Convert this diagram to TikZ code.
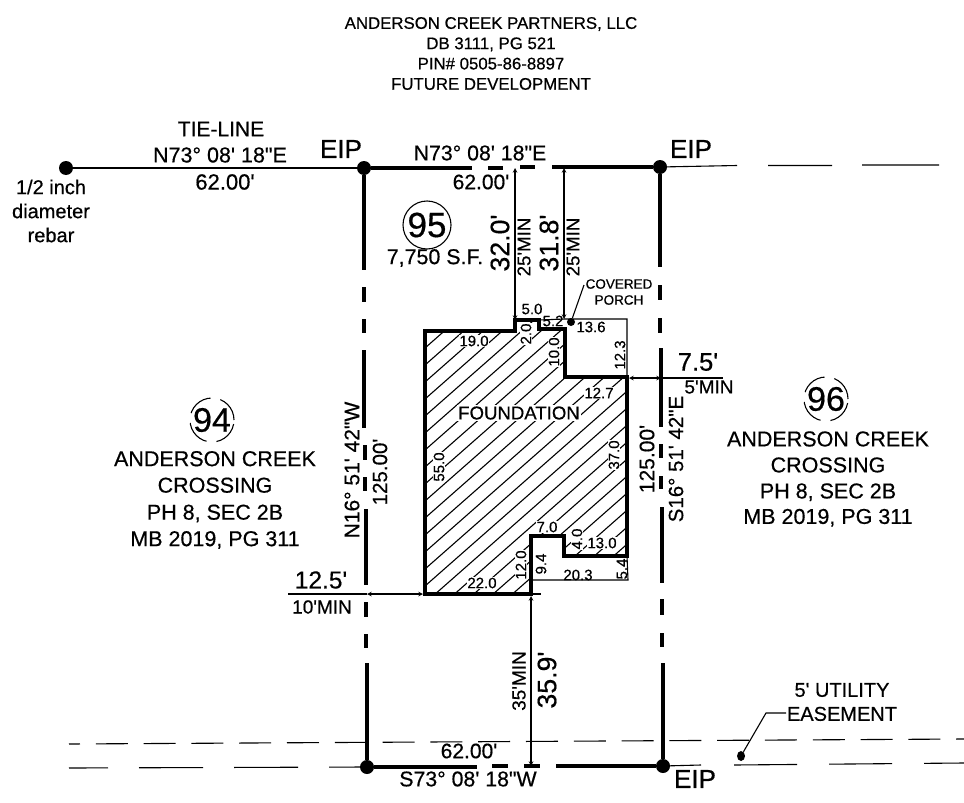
\documentclass[tikz,border=0pt]{standalone}
\usepackage{fontspec}
\setmainfont{Liberation Sans}[Ligatures=TeXOff,BoldFont=Liberation Sans,BoldFeatures={FakeBold=0.5}]
\usetikzlibrary{calc,shapes.geometric}

\begin{document}
\begin{tikzpicture}[x=1pt,y=-1pt]
  \tikzset{txt/.style={inner sep=0pt,align=center,font=\fontsize{#1}{#1}\selectfont\bfseries}};
  \tikzset{dim/.style={txt=15,fill=white,inner sep=0.5pt}};
  \tikzset{up/.style={rotate=90}};
  \tikzset{heavy/.style={line width=4.6pt}};
  \tikzset{slim/.style={line width=1.1pt}};
  \tikzset{iron/.style={shape=circle,fill=black,inner sep=0pt,minimum size=14pt}};
  \tikzset{lot/.style={shape=circle,draw,line width=1.1pt,inner sep=0pt,minimum size=48pt,font=\fontsize{35}{35}\selectfont\bfseries}};
  \useasboundingbox (0,0) rectangle (964,803);
  % corners
  \node[iron] (R) at (66,168){};
  \node[iron] (NW) at (364,168){};
  \node[iron] (NE) at (660,167){};
  \node[iron] (SW) at (367,767){};
  \node[iron] (SE) at (663,766){};
  % foundation corners
  \coordinate (A) at (425,331);
  \coordinate (B) at (515,331);
  \coordinate (C) at (515,320);
  \coordinate (D) at (539,320);
  \coordinate (E) at (539,329);
  \coordinate (F) at (565,329);
  \coordinate (G) at (565,377);
  \coordinate (H) at (627,377);
  \coordinate (I) at (627,556);
  \coordinate (J) at (564,556);
  \coordinate (K) at (564,536);
  \coordinate (L) at (531,536);
  \coordinate (M) at (531,594);
  \coordinate (N) at (425,594);
  % hatch
  \begin{scope}
    \clip (A)--(B)--(C)--(D)--(E)--(F)--(G)--(H)--(I)--(J)--(K)--(L)--(M)--(N)--cycle;
    \foreach \i in {0,...,34}
      \draw[line width=1.1pt] ($(A)+(0,\i*17)$) -- ++(300,-264);
  \end{scope}
  \node[dim] (a19) at (474,341){19.0};
  \node[dim,up] (a2) at (526,334){2.0};
  \node[dim,up] (a10) at (554,352){10.0};
  \node[dim] (a127) at (599,393){12.7};
  \node[txt=18.6,fill=white,inner sep=1pt] (found) at (519,413){FOUNDATION};
  \node[dim,up] (a55) at (439,467){55.0};
  \node[dim,up] (a37) at (614,455){37.0};
  \node[dim] (a7) at (547,527){7.0};
  \node[dim,up] (a4) at (577,539){4.0};
  \node[dim] (a13) at (602,543){13.0};
  \node[dim,up] (a12) at (521,565){12.0};
  \node[dim] (a22) at (482,583){22.0};
  \draw[heavy,line join=miter] (A)--(B)--(C)--(D)--(E)--(F)--(G)--(H)--(I)--(J)--(K)--(L)--(M)--(N)--cycle;
  % porch and stoop
  \coordinate (P1) at (565,319);
  \coordinate (P2) at (627,319);
  \coordinate (S1) at (531,580);
  \coordinate (S2) at (628,580);
  \coordinate (S3) at (541,594);
  \draw[slim] (D) -- (P1) -- (P2) -- (H);
  \draw[slim] (S1) -- (S2) -- (I);
  \draw[slim] (M) -- (S3);
  \node[txt=15] (b5) at (532,309){5.0};
  \node[txt=15] (b52) at (553,321){5.2};
  \node[txt=15] (b136) at (591,327){13.6};
  \node[txt=15,up] (b123) at (620,355){12.3};
  \node[txt=15,up] (b94) at (541,564){9.4};
  \node[txt=15] (b203) at (578,575){20.3};
  \node[txt=15,up] (b54) at (622,569){5.4};
  % boundary
  \draw[slim] (R) -- (NW);
  \draw[heavy] (NW) -- (472,168) (488,168) -- (503,168) (520,167) -- (535,167) (552,167) -- (NE);
  \draw[heavy] (NW) -- (364,270) (364,287) -- (364,302) (364,319) -- (364,333) (364,350) -- (364,428)
    (365,445) -- (365,460) (365,477) -- (365,491) (366,509) -- (366,585) (366,602) -- (366,617) (366,634) -- (366,648) (367,663) -- (SW);
  \draw[heavy] (NE) -- (660,267) (660,285) -- (660,300) (660,318) -- (660,333) (661,348) -- (661,427)
    (661,444) -- (661,458) (661,476) -- (661,489) (662,507) -- (662,583) (662,599) -- (662,615) (662,633) -- (662,647) (663,663) -- (SE);
  \draw[heavy] (SW) -- (477,767) (492,766) -- (508,766) (524,766) -- (540,766) (556,766) -- (SE);
  \draw[slim] (NE) -- (737,165.5) (768,165.5) -- (832,165.5) (862,165) -- (939,165);
  \draw[slim] (SE) -- (701,765);
  \draw[slim,dash pattern=on 64pt off 31pt,dash phase=25pt] (69,768) -- (SW);
  \draw[slim,dash pattern=on 63pt off 32pt] (734,765) -- (964,763);
  \draw[slim,dash pattern=on 32pt off 15.8pt,dash phase=21pt] (69,744) -- (964,739);
  % setbacks
  \coordinate (t1) at (515,168);
  \coordinate (b1) at (515,320);
  \coordinate (t2) at (564,168);
  \coordinate (b2) at (564,319);
  \coordinate (f1) at (531,596);
  \coordinate (f2) at (531,766);
  \coordinate (e1) at (629,378);
  \coordinate (e2) at (661,378);
  \coordinate (e3) at (723,378);
  \coordinate (w1) at (367,594);
  \coordinate (w2) at (423,594);
  \coordinate (w3) at (288,594);
  \draw[slim,arrows={stealth-stealth}] (t1) -- (b1);
  \draw[slim,arrows={stealth-stealth}] (t2) -- (b2);
  \draw[slim,arrows={stealth-stealth}] (f1) -- (f2);
  \draw[slim,arrows={stealth-stealth}] (e1) -- (e2);
  \draw[slim] (e2) -- (e3);
  \draw[slim,arrows={stealth-stealth}] (w1) -- (w2);
  \draw[slim] (w1) -- (w3);
  % callouts
  \node[iron,minimum size=8pt] (pd) at (571,322){};
  \coordinate (pl) at (584,285);
  \draw[slim] (pd) -- (pl);
  \node[txt=13.5] (porch) at (619,292){COVERED\\[2.5pt]PORCH};
  \node[shape=ellipse,fill=black,inner sep=0pt,minimum width=8pt,minimum height=10pt] (ed) at (741,756){};
  \coordinate (el) at (766,713);
  \coordinate (em) at (786,713);
  \draw[slim] (ed) -- (el) -- (em);
  \node[txt=20] (util) at (842,702){5' UTILITY\\[4pt]EASEMENT};
  % lots
  \node[lot] (l95) at (427,225){95};
  \node[lot,dash pattern=on 26pt off 10pt,minimum size=44pt] (l94) at (212,420){};
  \node[lot,dash pattern=on 26pt off 10pt,minimum size=44pt] (l96) at (826,399){};
  \node[txt=34] (n94) at (212,420){94};
  \node[txt=34] (n96) at (826,399){96};
  \node[txt=21.4] (s95) at (435,258){7,750 S.F.};
  \node[txt=21.5] (t94) at (215,500){ANDERSON CREEK\\[5pt]CROSSING\\[5.5pt]PH 8, SEC 2B\\[5pt]MB 2019, PG 311};
  \node[txt=21.5] (t96) at (828,479){ANDERSON CREEK\\[4.5pt]CROSSING\\[4.5pt]PH 8, SEC 2B\\[4pt]MB 2019, PG 311};
  \node[txt=16.8] (owner) at (491,53.5){ANDERSON CREEK PARTNERS, LLC\\[3.5pt]DB 3111, PG 521\\[3.5pt]PIN\# 0505-86-8897\\[3.5pt]FUTURE DEVELOPMENT};
  % bearings
  \node[txt=21] (tie) at (221,129){TIE-LINE};
  \node[txt=21.5] (tb) at (220,155){N73° 08' 18"E};
  \node[txt=22] (td) at (225,182){62.00'};
  \node[txt=20] (r1) at (51,187){1/2 inch};
  \node[txt=20] (r2) at (51,211){diameter};
  \node[txt=20] (r3) at (51,235){rebar};
  \node[txt=26] (eipnw) at (341,149){EIP};
  \node[txt=26] (eipne) at (691,149){EIP};
  \node[txt=26] (eipse) at (695,779){EIP};
  \node[txt=21.3] (nb) at (480,153){N73° 08' 18"E};
  \node[txt=21] (nd) at (481,182){62.00'};
  \node[txt=21,up] (wb) at (352,470){N16° 51' 42"W};
  \node[txt=20.5,up] (wd) at (380,472){125.00'};
  \node[txt=20.5,up] (eb) at (676,459){S16° 51' 42"E};
  \node[txt=21,up] (ed2) at (647,459){125.00'};
  \node[txt=21] (sd) at (469,751){62.00'};
  \node[txt=21.3] (sb) at (468,779){S73° 08' 18"W};
  % setback labels
  \node[txt=26.7,up] (c32) at (500,243){32.0'};
  \node[txt=18.7,up] (m1) at (524,247){25'MIN};
  \node[txt=26.7,up] (c318) at (549,243){31.8'};
  \node[txt=18.7,up] (m2) at (573,247){25'MIN};
  \node[txt=26.7,up] (c359) at (547,680){35.9'};
  \node[txt=19,up] (m3) at (519,681){35'MIN};
  \node[txt=25.5] (c75) at (698,362){7.5'};
  \node[txt=19] (m4) at (709,387){5'MIN};
  \node[txt=24.5] (c125) at (321,580){12.5'};
  \node[txt=19] (m5) at (322,607){10'MIN};
\end{tikzpicture}
\end{document}
